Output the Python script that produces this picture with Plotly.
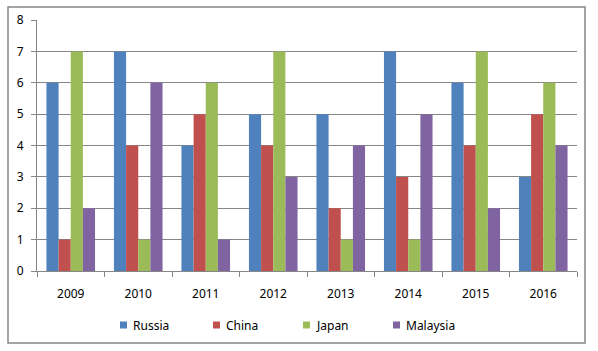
import plotly.graph_objects as go

years = ["2009", "2010", "2011", "2012", "2013", "2014", "2015", "2016"]
russia = [6, 7, 4, 5, 5, 7, 6, 3]
china = [1, 4, 5, 4, 2, 3, 4, 5]
japan = [7, 1, 6, 7, 1, 1, 7, 6]
malaysia = [2, 6, 1, 3, 4, 5, 2, 4]

names = ["Russia", "China", "Japan", "Malaysia"]
colors = ["#4F81BD", "#C0504D", "#9BBB59", "#8064A2"]
values = [russia, china, japan, malaysia]

FONT = "Noto Sans"
W, H = 598, 351
L, R, T, B = 37, 21, 20, 80
pw, ph = W - L - R, H - T - B

def px(x):
    return (x - L) / pw

def py(y):
    return (H - B - y) / ph

fig = go.Figure()
for name, vals, col in zip(names, values, colors):
    fig.add_trace(go.Bar(x=years, y=vals, name=name,
                         marker=dict(color=col, line=dict(width=0))))

# manual legend (keys + labels)
key_x = [120, 213, 303, 393]
shapes = [dict(type="rect", xref="paper", yref="paper",
               x0=px(8), x1=px(585), y0=py(343), y1=py(7),
               line=dict(color="#868686", width=1.5), fillcolor="rgba(0,0,0,0)", layer="below")]
annotations = []
for name, col, kx in zip(names, colors, key_x):
    shapes.append(dict(type="rect", xref="paper", yref="paper",
                       x0=px(kx), x1=px(kx + 7), y0=py(328.5), y1=py(321.5),
                       line=dict(width=0), fillcolor=col))
    annotations.append(dict(xref="paper", yref="paper", x=px(kx + 11), y=py(325),
                            xanchor="left", yanchor="middle", text=name, showarrow=False,
                            font=dict(family=FONT, size=12, color="black")))

fig.update_layout(
    width=W, height=H,
    margin=dict(l=L, r=R, t=T, b=B),
    paper_bgcolor="white", plot_bgcolor="white",
    barmode="group", bargap=0.28, bargroupgap=0,
    font=dict(family=FONT, size=12, color="black"),
    showlegend=False,
    shapes=shapes, annotations=annotations,
)
fig.update_yaxes(range=[0, 8], dtick=1, showgrid=True, gridcolor="#868686", gridwidth=1,
                 showline=True, linecolor="#868686", linewidth=1, ticks="outside", ticklen=5,
                 tickcolor="#868686", zeroline=False, ticklabelstandoff=5, fixedrange=True)
fig.update_xaxes(showline=True, linecolor="#868686", linewidth=1, ticks="outside", ticklen=5,
                 tickcolor="#868686", tickson="boundaries", showgrid=False, ticklabelstandoff=12)

fig.write_html("out.html")
